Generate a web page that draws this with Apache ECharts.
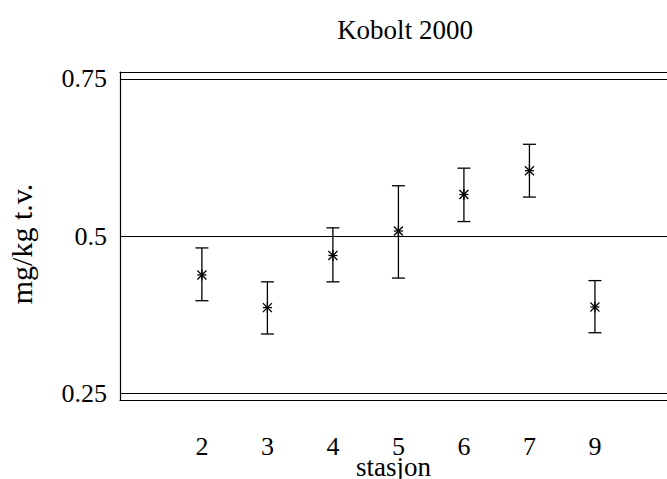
<!DOCTYPE html>
<html>
<head>
<meta charset="utf-8">
<script src="https://cdn.jsdelivr.net/npm/echarts@6/dist/echarts.min.js"></script>
<style>html,body{margin:0;padding:0;background:#fff}#c{width:667px;height:479px}</style>
</head>
<body>
<div id="c"></div>
<script>
const stations = ['2', '3', '4', '5', '6', '7', '9'];
const means = [0.438, 0.386, 0.469, 0.508, 0.566, 0.604, 0.387];
const lows  = [0.397, 0.344, 0.427, 0.433, 0.523, 0.562, 0.346];
const highs = [0.481, 0.427, 0.513, 0.580, 0.608, 0.646, 0.429];
const yTicks = [0.25, 0.5, 0.75];
const refLines = [0.25, 0.5, 0.75];

const font = 'Liberation Serif, Times New Roman, serif';
const data = stations.map((s, i) => [i + 1, means[i], lows[i], highs[i]]);

const chart = echarts.init(document.getElementById('c'), null, {renderer: 'svg'});
chart.setOption({
  animation: false,
  backgroundColor: '#fff',
  title: {
    text: 'Kobolt 2000', left: 400, top: 11, textAlign: 'center',
    textStyle: {fontFamily: font, fontSize: 27, fontWeight: 'normal', color: '#000'}
  },
  grid: {left: 120, right: 0, top: 72, bottom: 79, containLabel: false, outerBoundsMode: 'none'},
  xAxis: [{
    type: 'value', min: -0.25, max: 8.1, position: 'bottom',
    name: 'stasjon', nameLocation: 'middle', nameGap: 56, nameMoveOverlap: false,
    nameTextStyle: {fontFamily: font, fontSize: 27, lineHeight: 22, color: '#000'},
    axisLine: {show: true, onZero: false, lineStyle: {color: '#000', width: 1.2}},
    axisTick: {show: false}, splitLine: {show: false},
    axisLabel: {
      customValues: stations.map((s, i) => i + 1),
      formatter: v => stations[Math.round(v) - 1],
      fontFamily: font, fontSize: 26, lineHeight: 20, color: '#000', margin: 36
    }
  }, {
    type: 'value', min: -0.25, max: 8.1, position: 'top',
    axisLine: {show: true, onZero: false, lineStyle: {color: '#000', width: 1.2}},
    axisTick: {show: false}, axisLabel: {show: false}, splitLine: {show: false}
  }],
  yAxis: {
    type: 'value', min: 0.2389, max: 0.7611,
    name: 'mg/kg t.v.', nameLocation: 'middle', nameGap: 84, nameRotate: 90, nameMoveOverlap: false,
    nameTextStyle: {fontFamily: font, fontSize: 30, color: '#000', padding: [0, 16, 0, 0]},
    axisLine: {show: true, onZero: false, lineStyle: {color: '#000', width: 1.2}},
    axisTick: {show: false}, splitLine: {show: false},
    axisLabel: {
      customValues: yTicks,
      fontFamily: font, fontSize: 26, color: '#000', margin: 13
    }
  },
  series: [{
    type: 'custom',
    xAxisIndex: 0,
    data: data,
    encode: {x: 0, y: [1, 2, 3]},
    renderItem: function (params, api) {
      const x = api.value(0);
      const m = api.coord([x, api.value(1)]);
      const lo = api.coord([x, api.value(2)]);
      const hi = api.coord([x, api.value(3)]);
      const cw = 6.5, a = 4.5;
      const st = {stroke: '#000', lineWidth: 1.3};
      const L = (x1, y1, x2, y2) => ({type: 'line', shape: {x1, y1, x2, y2}, style: st});
      return {
        type: 'group',
        children: [
          L(lo[0], lo[1], hi[0], hi[1]),
          L(lo[0] - cw, lo[1], lo[0] + cw, lo[1]),
          L(hi[0] - cw, hi[1], hi[0] + cw, hi[1]),
          L(m[0] - a, m[1] - a, m[0] + a, m[1] + a),
          L(m[0] - a, m[1] + a, m[0] + a, m[1] - a),
          L(m[0] - a, m[1], m[0] + a, m[1]),
          L(m[0], m[1] - a - 1, m[0], m[1] + a + 1)
        ]
      };
    },
    markLine: {
      silent: true, symbol: 'none', label: {show: false},
      lineStyle: {color: '#000', width: 1.2, type: 'solid'},
      data: refLines.map(v => ({yAxis: v}))
    }
  }]
});
</script>
</body>
</html>
